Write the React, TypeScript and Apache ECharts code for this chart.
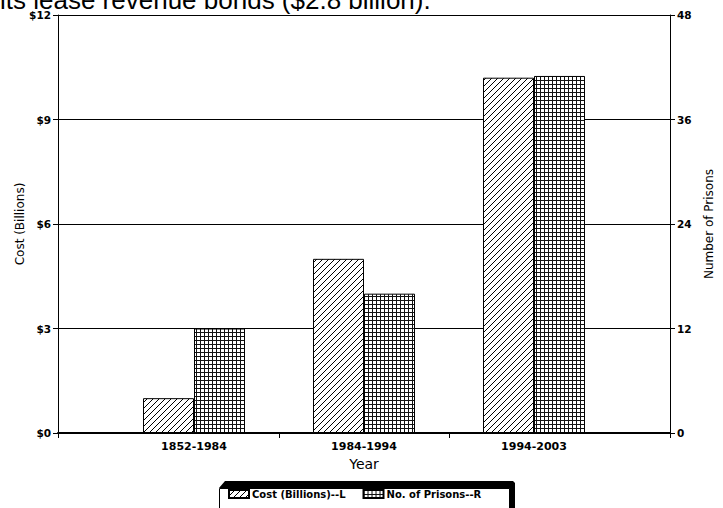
import React, { useEffect, useRef } from 'react';
import * as echarts from 'echarts';

// Periods shown on the horizontal axis
const categories = ['1852-1984', '1984-1994', '1994-2003'];
// Construction cost per period, billions of dollars (left axis)
const costBillions = [1.0, 5.0, 10.2];
// Number of prisons built per period (right axis)
const prisonCount = [12, 16, 41];

// Axis scales
const costAxis = { min: 0, max: 12, interval: 3 };
const prisonAxis = { min: 0, max: 48, interval: 12 };

const costName = 'Cost (Billions)--L';
const prisonName = 'No. of Prisons--R';
const headline = 'its lease revenue bonds ($2.8 billion).';

const FONT = '"DejaVu Sans", sans-serif';

function hatchTile(): HTMLCanvasElement {
  const c = document.createElement('canvas');
  c.width = 6;
  c.height = 6;
  const g = c.getContext('2d')!;
  g.fillStyle = '#fff';
  g.fillRect(0, 0, 6, 6);
  g.strokeStyle = '#000';
  g.lineWidth = 1;
  g.beginPath();
  g.moveTo(-1, 7);
  g.lineTo(7, -1);
  g.moveTo(-1, 1);
  g.lineTo(1, -1);
  g.moveTo(5, 7);
  g.lineTo(7, 5);
  g.stroke();
  return c;
}

function gridTile(): HTMLCanvasElement {
  const c = document.createElement('canvas');
  c.width = 4;
  c.height = 4;
  const g = c.getContext('2d')!;
  g.fillStyle = '#fff';
  g.fillRect(0, 0, 4, 4);
  g.fillStyle = '#111';
  g.fillRect(0, 0, 4, 1);
  g.fillRect(0, 0, 1, 4);
  return c;
}

export default function App() {
  const ref = useRef<HTMLDivElement>(null);

  useEffect(() => {
    if (!ref.current) return;
    const chart = echarts.init(ref.current, null, { renderer: 'svg' });

    const hatch: any = { image: hatchTile(), repeat: 'repeat', imageWidth: 6, imageHeight: 6 };
    const cross: any = { image: gridTile(), repeat: 'repeat', imageWidth: 4, imageHeight: 4 };

    // category positions on a numeric axis so the plot can run past the outer bars
    const positions = categories.map((_, i) => i + 1);
    const xMin = 0.2;
    const xMax = categories.length + 0.8;

    chart.setOption({
      animation: false,
      backgroundColor: '#fff',
      textStyle: { fontFamily: FONT, color: '#000' },
      grid: { left: 58, right: 48, top: 15, bottom: 75 },
      xAxis: {
        type: 'value',
        min: xMin,
        max: xMax,
        name: 'Year',
        nameLocation: 'middle',
        nameGap: 24,
        nameMoveOverlap: false,
        nameTextStyle: { fontSize: 14, fontFamily: FONT, color: '#000' },
        axisLine: { show: true, lineStyle: { color: '#000', width: 2 } },
        axisTick: {
          show: true,
          length: 5,
          lineStyle: { color: '#000', width: 1 },
          customValues: [xMin, 1.5, 2.5, xMax],
        },
        axisLabel: {
          show: true,
          customValues: positions,
          margin: 8,
          fontSize: 11,
          fontWeight: 'bold',
          color: '#000',
          formatter: (v: number) => categories[Math.round(v) - 1] ?? '',
        },
        splitLine: { show: false },
      },
      yAxis: [
        {
          type: 'value',
          position: 'left',
          ...costAxis,
          name: 'Cost (Billions)',
          nameLocation: 'middle',
          nameGap: 32,
          nameMoveOverlap: false,
          nameRotate: 90,
          nameTextStyle: { fontSize: 12, fontFamily: FONT, color: '#000' },
          axisLine: { show: true, lineStyle: { color: '#000', width: 1 } },
          axisTick: { show: true, length: 5, lineStyle: { color: '#000' } },
          axisLabel: {
            formatter: '${value}',
            fontSize: 10.5,
            fontWeight: 'bold',
            color: '#000',
            margin: 7,
          },
          splitLine: { show: true, lineStyle: { color: '#000', width: 1 } },
        },
        {
          type: 'value',
          position: 'right',
          ...prisonAxis,
          name: 'Number of Prisons',
          nameLocation: 'middle',
          nameGap: 33,
          nameMoveOverlap: false,
          nameRotate: 90,
          nameTextStyle: { fontSize: 12, fontFamily: FONT, color: '#000' },
          axisLine: { show: true, lineStyle: { color: '#000', width: 1 } },
          axisTick: { show: true, length: 5, lineStyle: { color: '#000' } },
          axisLabel: { fontSize: 10.5, fontWeight: 'bold', color: '#000', margin: 7 },
          splitLine: { show: false },
        },
      ],
      legend: {
        left: 228,
        top: 489,
        padding: 0,
        z: 10,
        itemWidth: 20,
        itemHeight: 8,
        itemGap: 17,
        icon: 'rect',
        selectedMode: false,
        textStyle: {
          fontSize: 10,
          fontWeight: 'bold',
          fontFamily: FONT,
          color: '#000',
          padding: [0, 0, 0, -2],
        },
        data: [costName, prisonName],
      },
      graphic: [
        {
          type: 'text',
          left: 0,
          top: -13,
          z: 0,
          style: {
            text: headline,
            font: '26px "Liberation Sans", Arial, sans-serif',
            fill: '#000',
          },
        },
        {
          type: 'polygon',
          z: 0,
          shape: {
            points: [
              [225, 481],
              [513, 481],
              [515, 483],
              [515, 510],
              [509, 510],
              [509, 488],
              [219, 488],
            ],
          },
          style: { fill: '#000' },
        },
        {
          type: 'rect',
          z: 0,
          shape: { x: 219.5, y: 488.5, width: 290, height: 30 },
          style: { fill: '#fff', stroke: '#000', lineWidth: 1 },
        },
      ],
      series: [
        {
          name: costName,
          type: 'bar',
          yAxisIndex: 0,
          barWidth: 51,
          barGap: '0%',
          itemStyle: { color: hatch, borderColor: '#000', borderWidth: 1 },
          data: positions.map((p, i) => [p, costBillions[i]]),
        },
        {
          name: prisonName,
          type: 'bar',
          yAxisIndex: 1,
          barWidth: 51,
          barGap: '0%',
          itemStyle: { color: cross, borderColor: '#000', borderWidth: 1 },
          data: positions.map((p, i) => [p, prisonCount[i]]),
        },
      ],
    });

    return () => chart.dispose();
  }, []);

  return (
    <div
      ref={ref}
      style={{ position: 'fixed', left: 0, top: 0, width: 723, height: 508 }}
    />
  );
}
